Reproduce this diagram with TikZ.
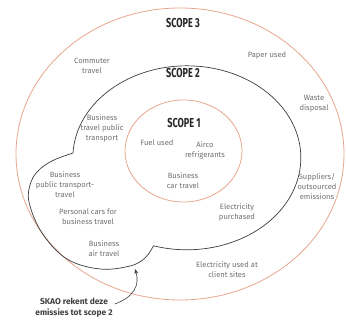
\documentclass[tikz,border=0pt]{standalone}
\usepackage{fontspec}
\setmainfont{Fira Sans}
\usetikzlibrary{arrows.meta}
\definecolor{scopeorange}{RGB}{232,166,142}
\definecolor{scopegray}{RGB}{60,60,60}
\definecolor{labelgray}{RGB}{112,112,112}
\tikzset{
    item/.style={align=center, text=labelgray, inner sep=0pt,
        font=\fontsize{7.6}{10}\selectfont},
    scopetitle/.style={text=black!85, inner sep=0pt,
        font=\fontsize{13}{13}\selectfont\bfseries},
    scopeline/.style={scopeorange, line width=0.8pt},
}
\newcommand{\scopename}[1]{\scalebox{0.7}[1]{#1}}

\begin{document}
\begin{tikzpicture}[x=1pt, y=-1pt]
        \useasboundingbox (0,0) rectangle (346,320);
        \draw[scopeline] (180,154) ellipse [x radius=164, y radius=146];
        \draw[scopeline] (183.5,151) ellipse [x radius=58.5, y radius=51];
        \draw[scopegray, line width=0.7pt]
            (73,153) arc [start angle=183, end angle=467, x radius=114, y radius=92]
            -- plot[smooth, tension=0.6] coordinates {(153.5,245.8) (145,258) (130,266)
                (100,269) (67,259) (42,233) (29,202) (31,182) (40,169) (54,160) (73,153)};
        \begin{scope}[every node/.style={scopetitle}]
            \node (s3) at (183,23) {\scopename{SCOPE 3}};
            \node (s2) at (183,73) {\scopename{SCOPE 2}};
            \node (s1) at (184,123) {\scopename{SCOPE 1}};
        \end{scope}
        \begin{scope}[every node/.style={item}]
            \node (comm) at (92,66) {Commuter\\travel};
            \node (paper) at (267,55) {Paper used};
            \node (waste) at (314,104) {Waste\\disposal};
            \node (suppl) at (317,186) {Suppliers/\\outsourced\\emissions};
            \node (elecc) at (227,270) {Electricity used at\\client sites};
            \node (btpt) at (102,128) {Business\\travel public\\transport};
            \node (bpt) at (65,185) {Business\\public transport-\\travel};
            \node (pcars) at (88,217) {Personal cars for\\business travel};
            \node (bair) at (104,249) {Business\\air travel};
            \node (elecp) at (237,212) {Electricity\\purchased};
            \node (fuel) at (157,143) {Fuel used};
            \node (airco) at (205,150) {Airco\\refrigerants};
            \node (bcar) at (183,181) {Business\\car travel};
        \end{scope}
        \node[item, text=black!75, font=\fontsize{8.4}{11}\selectfont\bfseries]
            (skao) at (74,308) {SKAO rekent deze\\emissies tot scope 2};
        \coordinate (tip) at (135,269);
        \draw[scopegray, line width=0.6pt, -{Stealth[length=5pt, width=4pt]}]
            ([shift={(2pt,4pt)}]skao.east) .. controls (134,297) and (140,285) .. (tip);
\end{tikzpicture}
\end{document}
